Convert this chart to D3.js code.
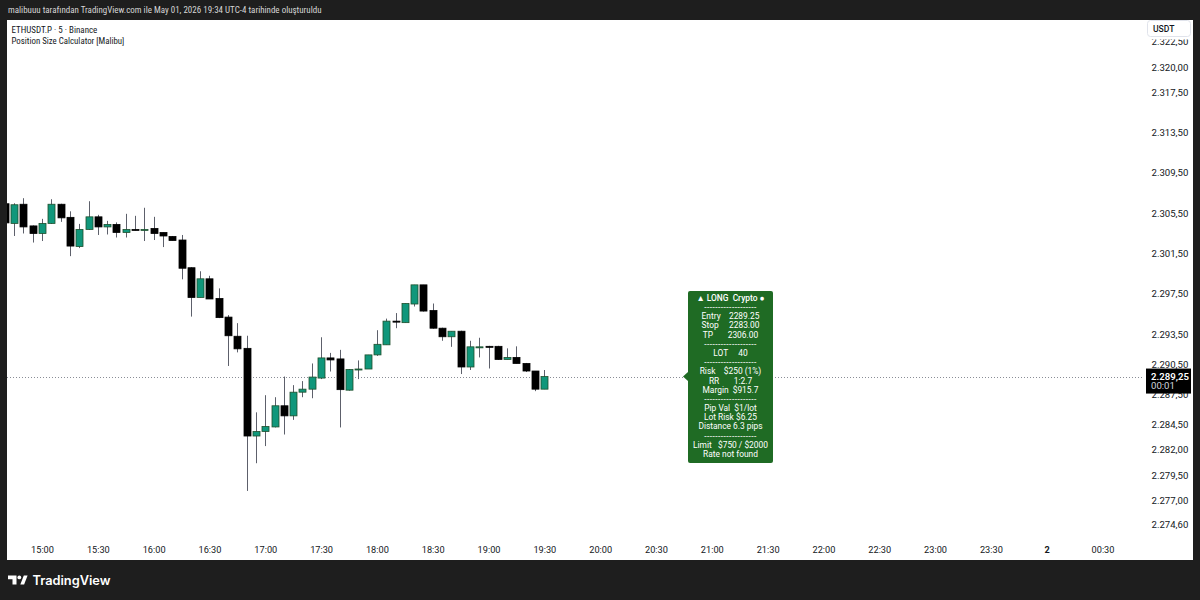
<!DOCTYPE html>
<html><head><meta charset="utf-8">
<script src="https://cdn.jsdelivr.net/npm/d3@7"></script>
<style>html,body{margin:0;padding:0;background:#1e1e1e;} svg{display:block;} text{white-space:pre;}</style>
</head><body>
<svg id="c" width="1200" height="600"></svg>
<script>
// ---------- DATA ----------
const times = ["14:40","14:45","14:50","14:55","15:00","15:05","15:10","15:15","15:20","15:25","15:30","15:35","15:40","15:45","15:50","15:55",
  "16:00","16:05","16:10","16:15","16:20","16:25","16:30","16:35","16:40","16:45","16:50","16:55",
  "17:00","17:05","17:10","17:15","17:20","17:25","17:30","17:35","17:40","17:45","17:50","17:55",
  "18:00","18:05","18:10","18:15","18:20","18:25","18:30","18:35","18:40","18:45","18:50","18:55",
  "19:00","19:05","19:10","19:15","19:20","19:25","19:30"];
const opens = [2306.40,2304.45,2306.35,2304.20,2303.45,2304.45,2306.35,2305.05,2302.15,2303.85,2305.10,2304.10,2304.35,2303.55,2303.85,2303.75,
  2303.95,2303.55,2303.15,2302.80,2300.05,2297.10,2298.95,2297.00,2295.15,2293.25,2292.05,2283.35,
  2283.80,2284.25,2286.35,2285.35,2287.70,2288.00,2289.10,2291.10,2291.00,2287.90,2289.95,2290.00,
  2291.40,2292.40,2294.75,2294.60,2296.45,2298.35,2295.80,2294.05,2293.20,2293.75,2290.20,2292.20,
  2292.25,2292.25,2290.95,2291.15,2290.55,2289.80,2288.00];
const highs = [2306.80,2306.45,2306.95,2304.25,2304.90,2306.85,2306.40,2305.65,2304.40,2306.65,2305.30,2304.70,2304.55,2305.40,2305.20,2306.00,
  2305.10,2303.55,2303.20,2303.30,2300.10,2299.70,2299.25,2298.00,2295.35,2294.55,2293.30,2285.70,
  2287.40,2287.20,2289.25,2288.40,2288.80,2290.55,2293.15,2291.60,2291.90,2290.00,2290.85,2291.40,
  2293.85,2295.00,2295.55,2296.50,2298.35,2298.35,2296.50,2294.10,2293.75,2293.80,2292.80,2293.10,
  2292.30,2292.30,2292.05,2292.25,2290.60,2289.80,2289.90];
const lows = [2304.00,2303.20,2303.45,2302.55,2302.70,2304.40,2304.60,2301.20,2302.00,2303.80,2303.30,2303.35,2303.05,2303.05,2303.75,2302.70,
  2302.80,2302.10,2302.75,2298.90,2295.20,2297.10,2296.95,2295.05,2290.30,2291.65,2277.90,2280.65,
  2282.35,2284.20,2283.50,2284.95,2287.20,2287.10,2289.00,2289.75,2284.20,2287.85,2289.00,2290.00,
  2291.30,2292.40,2294.05,2294.60,2296.20,2295.70,2294.00,2292.80,2292.20,2289.50,2289.90,2291.15,
  2290.05,2290.90,2290.95,2290.55,2289.70,2287.80,2288.00];
const closes = [2304.50,2306.30,2304.10,2303.45,2304.45,2306.35,2305.00,2302.20,2303.85,2305.10,2304.10,2304.35,2303.55,2303.85,2303.75,2303.85,
  2303.45,2303.20,2302.75,2300.00,2297.10,2298.95,2296.95,2295.10,2293.30,2292.00,2283.35,2283.80,
  2284.30,2286.35,2285.35,2287.70,2288.00,2289.20,2291.10,2290.90,2287.95,2289.95,2290.00,2291.40,
  2292.45,2294.75,2294.70,2296.50,2298.35,2295.75,2294.05,2293.20,2293.75,2290.20,2292.20,2292.20,
  2292.15,2290.95,2291.15,2290.55,2289.80,2288.00,2289.25];
const yTicks = [2322.5,2320,2317.5,2313.5,2309.5,2305.5,2301.5,2297.5,2293.5,2290.5,2287.5,2284.5,2282,2279.5,2277,2274.6];
const xTickTimes = ["15:00","15:30","16:00","16:30","17:00","17:30","18:00","18:30","19:00","19:30","20:00","20:30","21:00","21:30","22:00","22:30","23:00","23:30","00:00","00:30"];
const xTickLabels = ["15:00","15:30","16:00","16:30","17:00","17:30","18:00","18:30","19:00","19:30","20:00","20:30","21:00","21:30","22:00","22:30","23:00","23:30","2","00:30"];
const lastPrice = 2289.25;
const countdown = "00:01";
const currency = "USDT";
const headerText = "malibuuu tarafından TradingView.com ile May 01, 2026 19:34 UTC-4 tarihinde oluşturuldu";
const legendLines = ["ETHUSDT.P · 5 · Binance", "Position Size Calculator [Malibu]"];
const panelLines = ["▲ LONG  Crypto ●","-------------------","Entry    2289.25","Stop     2283.00","TP       2306.00","-------------------",
  "LOT     40","-------------------","Risk    $250 (1%)","RR       1:2.7","Margin  $915.7","-------------------",
  "Pip Val  $1/lot","Lot Risk $6.25","Distance 6.3 pips","-------------------","Limit   $750 / $2000","Rate not found"];

// ---------- HELPERS ----------
const toMin = t => { const [h,m] = t.split(":").map(Number); return (h < 12 ? h + 24 : h) * 60 + m; };
const trLocale = d3.formatLocale({decimal: ",", thousands: ".", grouping: [3], currency: ["", ""]});
const fmtPrice = trLocale.format(",.2f");
function fitFont(sel, target, base) {
  sel.style("font-size", base + "px");
  const w = sel.node().getComputedTextLength();
  const fs = base * target / w;
  sel.style("font-size", fs + "px");
  return fs;
}

const svg = d3.select("#c");
const FONT = "Roboto, 'Noto Sans', sans-serif";
const NARROW = "'Liberation Sans Narrow', 'Roboto Condensed', Roboto, sans-serif";

// frame
svg.append("rect").attr("width",1200).attr("height",600).attr("fill","#1e1e1e");
svg.append("rect").attr("x",7).attr("y",20).attr("width",1186).attr("height",540).attr("fill","#ffffff");

// scales
const x = d3.scaleLinear().domain([toMin("15:00"), toMin("00:30")]).range([42, 1102.5]);
const y = d3.scaleLinear().domain([2277, 2320]).range([500, 66.7]);
const bodyW = 7;

// header
const hdr = svg.append("text").attr("x",8).attr("y",10).attr("dy","0.35em")
  .attr("fill","#d6d6d6").attr("font-family",NARROW).text(headerText);
fitFont(hdr, 314, 10);

// clip
svg.append("defs").append("clipPath").attr("id","pane")
  .append("rect").attr("x",7).attr("y",20).attr("width",1135).attr("height",520);

const pane = svg.append("g").attr("clip-path","url(#pane)");

const candles = times.map((t,i)=>({t:toMin(t), o:opens[i], h:highs[i], l:lows[i], c:closes[i]}));

// current price dotted line
pane.append("line").attr("x1",7).attr("x2",1146)
  .attr("y1",Math.round(y(lastPrice))+0.5).attr("y2",Math.round(y(lastPrice))+0.5)
  .attr("stroke","#8a8d96").attr("stroke-width",1).attr("stroke-dasharray","1,2");

// wicks
pane.selectAll("line.wick").data(candles).join("line").attr("class","wick")
  .attr("x1",d=>Math.round(x(d.t))+0.5).attr("x2",d=>Math.round(x(d.t))+0.5)
  .attr("y1",d=>y(d.h)).attr("y2",d=>y(d.l))
  .attr("stroke","#5d606b").attr("stroke-width",1);

// bodies
pane.selectAll("rect.body").data(candles).join("rect").attr("class","body")
  .attr("x",d=>Math.round(x(d.t)) + 0.5 - bodyW/2)
  .attr("y",d=>y(Math.max(d.o,d.c)))
  .attr("width",bodyW)
  .attr("height",d=>Math.max(1, Math.abs(y(d.o)-y(d.c))))
  .attr("fill",d=>d.c>=d.o ? "#10977b" : "#000000")
  .attr("stroke",d=>d.c>=d.o ? "#1f4f2c" : "#000000")
  .attr("stroke-width",0.8);

// legend
legendLines.forEach((s,i)=>{
  const t = svg.append("text").attr("x",11.5).attr("y",30 + i*11).attr("dy","0.35em")
    .attr("fill","#131722").attr("font-family",NARROW).text(s);
  fitFont(t, i===0 ? 86 : 113, 10);
});

// info panel
const py = y(lastPrice);
const panel = svg.append("g");
panel.append("path").attr("d",`M688,${py-4.5} L683,${py} L688,${py+4.5} Z`).attr("fill","#1f6b24");
panel.append("rect").attr("x",688).attr("y",291).attr("width",85).attr("height",172).attr("rx",2).attr("fill","#1f6b24");
panelLines.forEach((s,i)=>{
  const isDash = s.startsWith("---");
  panel.append("text").attr("x",730.5).attr("y",298 + i*9.18).attr("dy","0.35em")
    .attr("text-anchor","middle").attr("fill","#ffffff").attr("font-family",FONT)
    .attr("font-size","8.4px").attr("font-weight", i===0 ? 500 : 400)
    .attr("letter-spacing", isDash ? "0.45px" : null)
    .text(s);
});

// y axis
const yAxis = d3.axisRight(y).tickValues(yTicks).tickFormat(fmtPrice).tickSize(0).tickPadding(0);
const gy = svg.append("g").attr("transform","translate(1151.5,0)").call(yAxis);
gy.select(".domain").remove();
gy.selectAll("text").attr("fill","#131722").attr("font-family",FONT).style("font-size","9.6px").attr("dy","0.35em");

// USDT box (covers the top of the first tick label like the reference)
svg.append("rect").attr("x",1143).attr("y",20).attr("width",50).attr("height",19.5).attr("fill","#ffffff");
svg.append("rect").attr("x",1147.5).attr("y",20.5).attr("width",43).attr("height",16).attr("rx",3)
  .attr("fill","#ffffff").attr("stroke","#e0e3eb");
svg.append("text").attr("x",1153).attr("y",28.5).attr("dy","0.35em").attr("fill","#131722")
  .attr("font-family",FONT).style("font-size","8.6px").attr("font-weight",500).text(currency);

// last price label
svg.append("rect").attr("x",1146).attr("y",py-8).attr("width",45).attr("height",25).attr("fill","#000000");
svg.append("text").attr("x",1151).attr("y",py).attr("dy","0.35em").attr("fill","#ffffff")
  .attr("font-family",FONT).style("font-size","9.6px").attr("font-weight",600).text(fmtPrice(lastPrice));
svg.append("text").attr("x",1151).attr("y",py+9).attr("dy","0.35em").attr("fill","#d1d4dc")
  .attr("font-family",FONT).style("font-size","9.6px").text(countdown);

// x axis
const xAxis = d3.axisBottom(x).tickValues(xTickTimes.map(toMin)).tickFormat((d,i)=>xTickLabels[i]).tickSize(0).tickPadding(0);
const gx = svg.append("g").attr("transform","translate(0,550)").call(xAxis);
gx.select(".domain").remove();
gx.selectAll("text").attr("fill","#131722").attr("font-family",FONT).style("font-size","9.2px").attr("y",0).attr("dy","0.35em")
  .attr("font-weight",(d,i)=>xTickLabels[i]==="2" ? 700 : 400);

// TradingView logo
const logo = svg.append("g").attr("fill","#ffffff");
logo.append("path").attr("d","M8,575.5 H16.5 V584.5 H12.5 V579.2 H8 Z");
logo.append("circle").attr("cx",19.3).attr("cy",577.4).attr("r",1.9);
logo.append("path").attr("d","M20.3,584.5 L23.8,575.5 H27.6 L24.1,584.5 Z");
const tv = svg.append("text").attr("x",32.5).attr("y",580.5).attr("dy","0.35em").attr("fill","#ffffff")
  .attr("font-family","Inter, Roboto, sans-serif").attr("font-weight",600).text("TradingView");
fitFont(tv, 78, 14);
</script>
</body></html>
